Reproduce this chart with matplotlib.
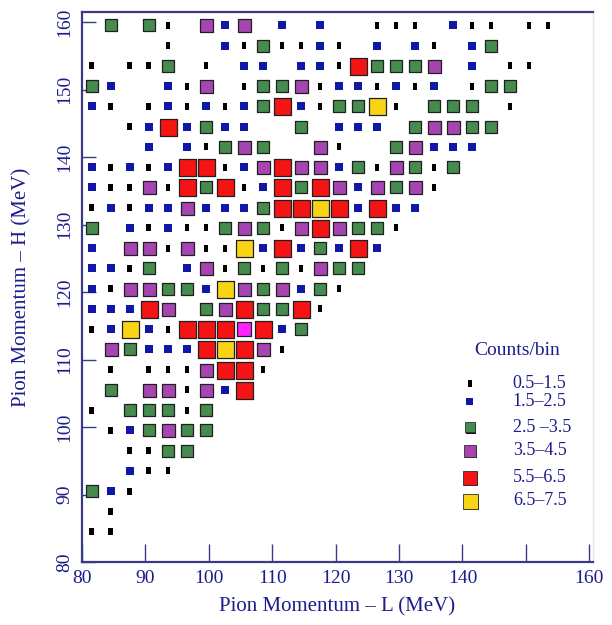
import numpy as np
import matplotlib
matplotlib.use('Agg')
import matplotlib.pyplot as plt

# Bin grid: 3 MeV bins, x centres 81.5..153.5, y centres 84.5..159.5
x_start, y_start, bin_w = 81.5, 84.5, 3.0

# one string per row, top row (H = 159.5) first
# . empty, K 0.5-1.5, B 1.5-2.5, G 2.5-3.5, P 3.5-4.5, M 4.5-5.5, R 5.5-6.5, Y 6.5-7.5
rows = [
    ".G.GK.PBP.B.B..KKK.BKK.KK",
    "....K..BKGKKBK.B.BK.BG...",
    "K.KKG.K.BB.BBKRGGGP.B.KK.",
    "GB..BKP.KGGPKBBKBKB.KGG..",
    "BK.KBKBKBGRBKGGYK.GGG.K..",
    "..KBRBGBB..G.BBB.GPPGG...",
    "...B.BKGPG..PK..GPBBB....",
    "BKBKBRRKBPRPPBGKPGKG.....",
    "BKKPKRGRKBRGRPBPGPK......",
    "KBKBBPBBBGRRYRBRBB.......",
    "G.BKBKKGPGKPRPGGK........",
    "B.PPKPKKYBRBGBRB.........",
    "BBKG.BPKGKGKPGG..........",
    "BKPPGGBYPGPBGK...........",
    "BBBRP.GPRGGRK............",
    "KBYBKRRRMRBG.............",
    ".PGBBBRYRPK..............",
    ".K.KKKPRRK...............",
    ".G.PPKPBR................",
    "K.GGGKG..................",
    ".KBGPGG..................",
    "..KKGG...................",
    "..BKK....................",
    "GBK......................",
    ".K.......................",
    "KK.......................",
]

codes = ['K', 'B', 'G', 'P', 'M', 'R', 'Y']
colors = {'K': '#000000', 'B': '#1018a8', 'G': '#458c4e', 'P': '#a645b2',
          'M': '#ff22ff', 'R': '#f41414', 'Y': '#f8d414'}
sizes_px = {'K': 7, 'B': 8, 'G': 12, 'P': 13, 'M': 14, 'R': 17, 'Y': 17}
legend_codes = ['K', 'B', 'G', 'P', 'R', 'Y']
legend_labels = ['0.5\u20131.5', '1.5\u20132.5', '2.5 \u20133.5', '3.5\u20134.5',
                 '5.5\u20136.5', '6.5\u20137.5']
legend_px = {'K': 7, 'B': 7, 'G': 10, 'P': 12, 'R': 14, 'Y': 15}

x_ticks = [80, 90, 100, 110, 120, 130, 140, 150, 160]
x_ticklabels = ['80', '90', '100', '110', '120', '130', '140', '', '160']
y_ticks = [80, 90, 100, 110, 120, 130, 140, 150, 160]

navy = '#1c1c8c'
axcol = '#3a3a86'
plt.rcParams['font.family'] = ['Liberation Serif', 'DejaVu Serif']

tall = [(-0.3, -0.5), (0.3, -0.5), (0.3, 0.5), (-0.3, 0.5), (-0.3, -0.5)]

def marker_for(c):
    return tall if c == 'K' else 's'

fig = plt.figure(figsize=(6.12, 6.25), dpi=100)
ax = fig.add_axes([0.134, 0.1008, 0.835, 0.880])

n_rows = len(rows)
for c in codes:
    xs, ys = [], []
    for r, line in enumerate(rows):
        for k, ch in enumerate(line):
            if ch == c:
                xs.append(x_start + bin_w * k)
                ys.append(y_start + bin_w * (n_rows - 1 - r))
    if not xs:
        continue
    edge = 'none' if c in ('K', 'B') else '#202020'
    ax.scatter(xs, ys, s=(sizes_px[c] * 0.72) ** 2, marker=marker_for(c),
               c=colors[c], edgecolors=edge, linewidths=0.9, zorder=3)

# legend (drawn by hand, markers with a small drop shadow)
ax.text(0.851, 0.385, 'Counts/bin', transform=ax.transAxes, color=navy,
        fontsize=14, ha='center', va='center')
leg_y = [0.325, 0.291, 0.245, 0.202, 0.153, 0.111]
for c, lab, yy in zip(legend_codes, legend_labels, leg_y):
    sz = (legend_px[c] * 0.72) ** 2
    if c not in ('K', 'B'):
        ax.scatter([0.759 + 1.5 / 511], [yy - 1.5 / 550], transform=ax.transAxes,
                   s=sz, marker='s', c='#101010', edgecolors='none', zorder=2,
                   clip_on=False)
    edge = 'none' if c in ('K', 'B') else '#303030'
    ax.scatter([0.759], [yy], transform=ax.transAxes, s=sz,
               marker=marker_for(c), c=colors[c], edgecolors=edge,
               linewidths=0.6, zorder=3, clip_on=False)
    ax.text(0.843, yy, lab, transform=ax.transAxes, color=navy, fontsize=13,
            ha='left', va='center')

ax.set_xlim(80, 160.6)
ax.set_ylim(80, 161.5)
ax.set_xticks(x_ticks)
ax.set_xticklabels(x_ticklabels)
ax.set_yticks(y_ticks)
ax.set_yticklabels([str(v) for v in y_ticks], rotation=90, va='center')
ax.tick_params(axis='x', direction='in', length=13, width=1.0, colors=axcol,
               labelcolor=navy, labelsize=14, pad=6)
ax.tick_params(axis='y', direction='in', length=10, width=1.0, colors=axcol,
               labelcolor=navy, labelsize=14, pad=6)

for side in ('left', 'bottom', 'top'):
    ax.spines[side].set_color(axcol)
    ax.spines[side].set_linewidth(1.6)
ax.spines['right'].set_color('#e4e4ee')
ax.spines['right'].set_linewidth(1.0)

ax.set_xlabel('Pion Momentum \u2013 L (MeV)', color=navy, fontsize=15, labelpad=7)
ax.set_ylabel('Pion Momentum \u2013 H (MeV)', color=navy, fontsize=15, labelpad=18)

fig.savefig('out.png', dpi=100)
